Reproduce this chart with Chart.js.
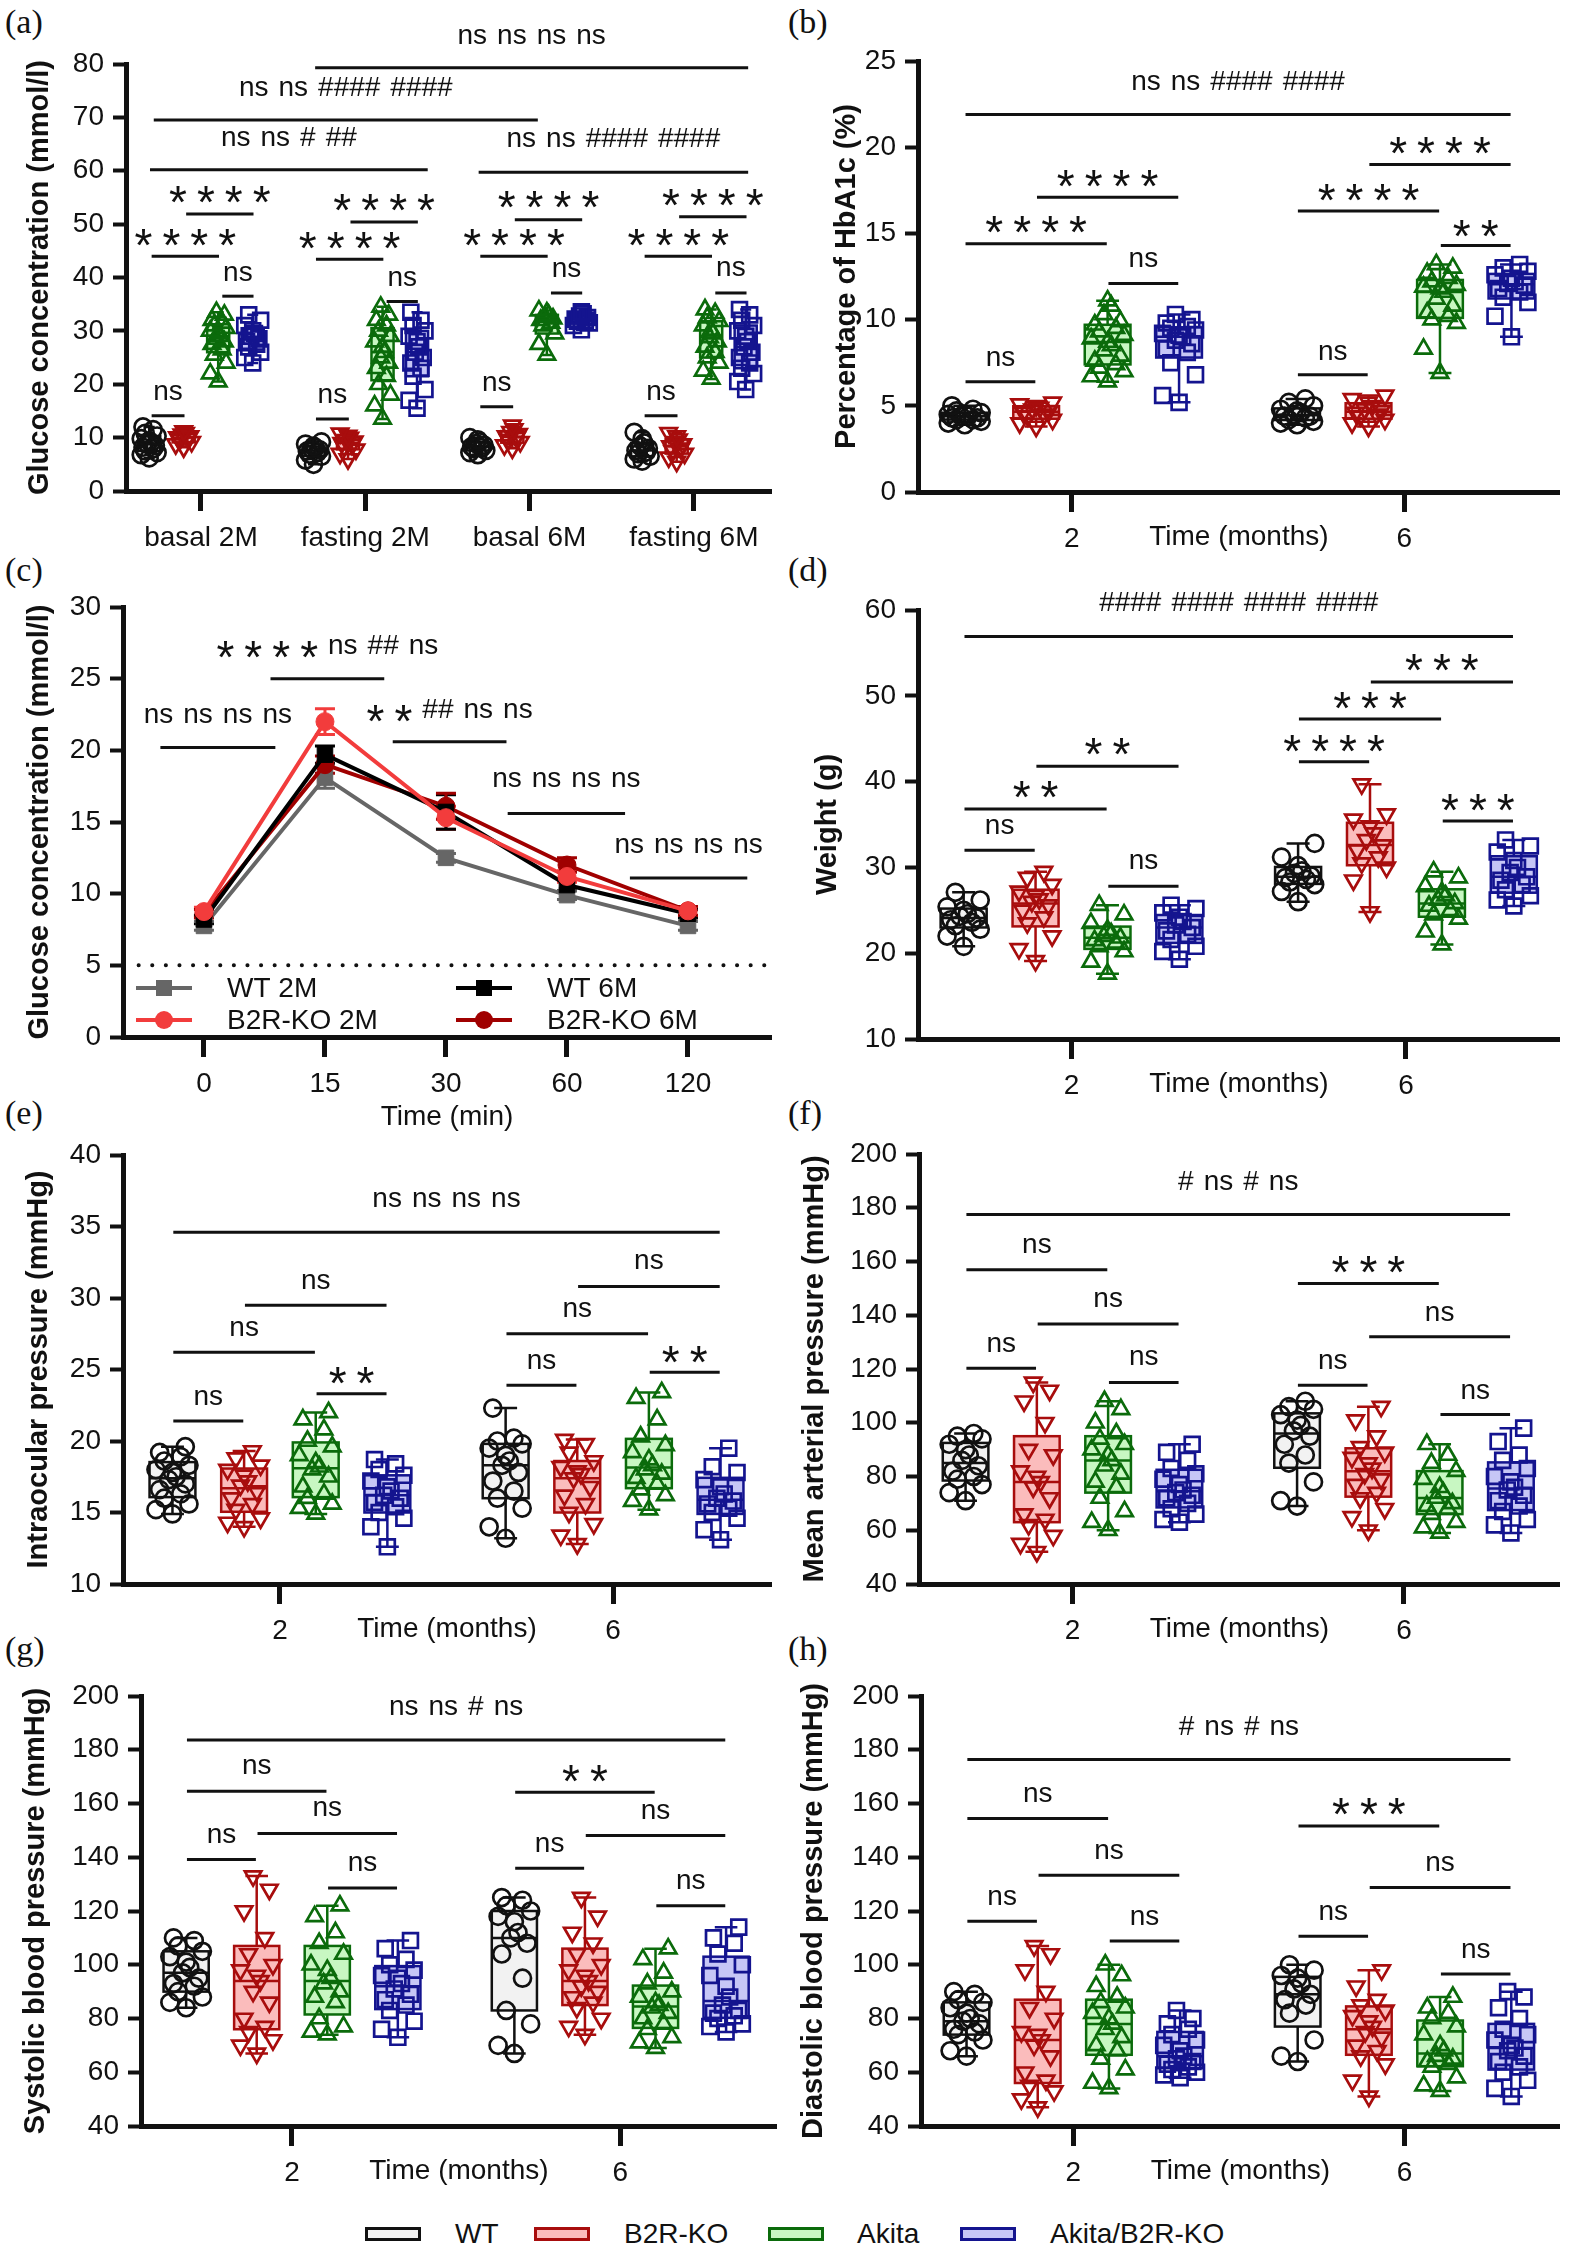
<!DOCTYPE html>
<html>
<head>
<meta charset="utf-8">
<script src="https://cdn.jsdelivr.net/npm/chart.js@4.4.0/dist/chart.umd.min.js"></script>
<style>
  body { margin: 0; background: #fff; width: 1573px; height: 2252px; position: relative; overflow: hidden; font-family: "Liberation Sans", Arial, sans-serif; color: #111; }
  .lab { position: absolute; font-family: "Liberation Serif", "Times New Roman", serif; font-size: 34px; line-height: 34px; }
  .sw { position: absolute; width: 50px; height: 8px; border: 3px solid; top: 2227px; }
  .lt { position: absolute; font-size: 28px; line-height: 30px; top: 2219px; }
</style>
</head>
<body>
<div class="lab" style="left:5px;top:5px">(a)</div>
<div class="lab" style="left:788px;top:5px">(b)</div>
<div class="lab" style="left:5px;top:553px">(c)</div>
<div class="lab" style="left:788px;top:553px">(d)</div>
<div class="lab" style="left:5px;top:1096px">(e)</div>
<div class="lab" style="left:788px;top:1096px">(f)</div>
<div class="lab" style="left:5px;top:1632px">(g)</div>
<div class="lab" style="left:788px;top:1632px">(h)</div>

<span class="sw" style="left:365px;border-color:#111;background:#f2f2f2"></span><span class="lt" style="left:455px">WT</span>
<span class="sw" style="left:534px;border-color:#a80d0d;background:#fbbcbc"></span><span class="lt" style="left:624px">B2R-KO</span>
<span class="sw" style="left:768px;border-color:#0b6b0b;background:#c8f7c2"></span><span class="lt" style="left:857px">Akita</span>
<span class="sw" style="left:960px;border-color:#14148f;background:#c6c6f6"></span><span class="lt" style="left:1050px">Akita/B2R-KO</span>

<script>
// groups shared by the box panels
const GROUPS = ['WT', 'B2R-KO', 'Akita', 'Akita/B2R-KO'];
const EDGE = ['#111111', '#a80d0d', '#0b6b0b', '#14148f'];
const FILL = ['#f2f2f2', '#fbbcbc', '#c8f7c2', '#c6c6f6'];
const STYLE = ['circle', 'triangle', 'triangle', 'rect'];
const ROT = [0, 180, 0, 0];
const RAD = [8.5, 9.5, 9.5, 10.5];
const months = ['2', '6'];

// (a) glucose, basal / fasting
const glucoseCats = ['basal 2M', 'fasting 2M', 'basal 6M', 'fasting 6M'];
const glucoseWT = [[6.2,6.8,7.2,7.5,7.9,8.2,8.5,8.8,9.0,9.4,9.8,10.3,10.8,11.5,12.0],[5.0,5.8,6.5,6.9,7.2,7.5,7.7,7.9,8.1,8.4,8.8,9.2],[6.8,7.2,7.6,7.9,8.1,8.3,8.6,8.9,9.2,9.6,10.0],[5.6,6.0,6.5,7.0,7.3,7.6,8.0,8.4,9.0,9.8,11.0]];
const glucoseB2R = [[8.2,8.8,9.2,9.6,9.9,10.1,10.3,10.6,10.9,11.2],[6.0,7.0,7.8,8.3,8.7,9.0,9.3,9.6,10.0,10.4,10.8],[8.0,8.6,9.2,9.6,10.0,10.3,10.7,11.1,11.6,12.3],[5.5,6.3,7.0,7.5,8.0,8.4,8.8,9.2,9.7,10.3,10.9]];
const glucoseAkita = [[20.5,22,24,25.5,26.5,27.5,28,28.5,29,29.5,30,30.5,31,31.5,32,33,33.5],[13.5,16,18,20,21.5,23,24,25,26,27,28,29,30,31,32,33,34.5],[25.5,27.5,29.5,31,31.5,32,32.3,32.6,33,33.4,33.8],[21,22.5,24,25,26,27,28,28.8,29.5,30.2,31,31.8,32.5,33.3,34]];
const glucoseAkitaB2R = [[24,25,26,27,27.5,28,28.5,29,29.5,30,31,32,33],[15.5,17,19,21.5,23,24,25,26,27,28,29,30,31,32,33.5],[30.2,31,31.5,31.8,32,32.2,32.5,32.8,33.2,33.6],[19,20.5,22,23,24,25,26,27,28,29,30,31,32,33,34]];

// (b) HbA1c
const hbWT = [[3.9,4.0,4.1,4.2,4.2,4.3,4.3,4.4,4.4,4.5,4.5,4.6,4.7,4.8,5.0],[3.9,4.0,4.1,4.2,4.3,4.4,4.4,4.5,4.6,4.7,4.8,5.0,5.2,5.4]];
const hbB2R = [[3.8,4.0,4.2,4.4,4.5,4.6,4.7,4.8,4.9,5.0,5.1,5.2],[3.8,4.0,4.2,4.4,4.5,4.6,4.7,4.8,5.0,5.2,5.4,5.6]];
const hbAkita = [[6.4,6.7,7.0,7.2,7.4,7.6,7.9,8.2,8.5,8.7,8.9,9.1,9.3,9.5,9.7,9.9,10.3,10.8,11.1],[6.9,8.3,9.8,10.0,10.2,10.4,10.8,11.2,11.6,11.8,11.9,12.0,12.2,12.4,12.7,13.0,13.2]];
const hbAkitaB2R = [[5.2,5.6,6.8,7.5,8.1,8.3,8.6,8.8,9.0,9.1,9.2,9.4,9.5,9.6,9.8,10.0,10.3],[9.0,10.2,11.0,11.3,11.6,11.8,12.0,12.1,12.2,12.4,12.6,12.8,13.0,13.2]];

// (c) glucose tolerance, mean and error
const gttTimes = ['0', '15', '30', '60', '120'];
const gttWT2 = [7.75, 18.1, 12.5, 9.9, 7.75];
const gttWT2Err = [0.3, 0.75, 0.3, 0.3, 0.3];
const gttKO2 = [8.75, 22.0, 15.3, 11.2, 8.8];
const gttKO2Err = [0.3, 0.9, 0.8, 0.4, 0.3];
const gttWT6 = [8.2, 19.7, 15.7, 10.6, 8.6];
const gttWT6Err = [0.3, 0.6, 1.2, 0.4, 0.3];
const gttKO6 = [8.6, 19.0, 16.1, 12.0, 8.8];
const gttKO6Err = [0.3, 0.6, 0.9, 0.5, 0.3];

// (d) weight
const wtWT = [[20.8,22.0,22.8,23.2,23.6,23.9,24.1,24.3,24.6,25.0,25.4,26.2,27.1],[26.0,27.2,28.0,28.3,28.6,28.8,29.0,29.3,29.6,30.2,31.2,32.8]];
const wtB2R = [[19.1,20.5,22.0,23.5,24.2,25.0,25.6,26.0,26.3,26.7,27.2,28.0,28.8,29.5],[24.8,28.5,30.0,30.5,31.2,32.0,32.6,33.2,34.0,34.8,35.6,36.2,39.7]];
const wtAkita = [[17.6,19.0,20.2,20.8,21.2,21.5,21.8,22.0,22.3,22.7,23.5,24.5,25.6],[21.0,22.5,24.0,24.5,25.0,25.5,25.8,26.2,26.7,27.1,27.8,28.8,29.5]];
const wtAkitaB2R = [[19.3,20.2,20.8,21.6,22.2,22.6,23.0,23.3,23.7,24.2,24.7,25.2,25.6],[25.5,26.2,26.7,27.4,28.0,28.5,28.9,29.4,30.0,30.8,31.8,32.5,33.2]];

// (e) intraocular pressure
const iopWT = [[14.9,15.2,15.6,16.0,16.3,16.6,17.0,17.3,17.5,17.8,18.0,18.3,18.6,18.9,19.2,19.6],[13.2,14.0,15.3,16.0,16.5,17.2,17.8,18.3,18.6,19.0,19.5,19.8,20.0,20.2,22.3]];
const iopB2R = [[14.0,14.3,14.6,15.2,15.6,16.0,16.5,16.9,17.2,17.6,18.0,18.3,18.8,19.3],[12.8,13.4,14.2,15.0,15.6,16.2,16.8,17.4,17.7,17.9,18.2,18.6,19.2,19.8,20.1]];
const iopAkita = [[14.9,15.3,15.6,16.0,16.3,16.8,17.5,18.0,18.2,18.5,19.0,19.6,20.0,20.8,21.5,22.0],[15.2,15.8,16.2,16.6,17.0,17.4,17.7,18.0,18.3,18.7,19.2,19.7,20.3,21.5,23.0,23.4]];
const iopAkitaB2R = [[12.6,14.0,14.6,15.0,15.4,15.7,16.0,16.2,16.5,16.8,17.2,17.6,18.0,18.4,18.7],[13.1,13.8,14.6,15.0,15.3,15.6,15.8,16.0,16.3,16.8,17.3,17.8,18.2,19.5]];

// (f) mean arterial pressure
const mapWT = [[71,74,77,79,80,82,84,86,88,90,92,94,95,96],[69,71,78,85,88,92,95,97,99,101,103,105,106,108]];
const mapB2R = [[52,55,58,62,64,66,72,76,78,80,82,88,90,100,108,112,115],[60,65,68,72,74,77,79,81,83,85,87,89,91,95,101,106]];
const mapAkita = [[60,63,67,72,76,78,81,84,86,88,90,92,94,96,100,105,108],[59,61,63,66,68,69,70,72,74,76,79,82,85,88,92]];
const mapAkitaB2R = [[63,64,66,68,70,72,73,74,75,77,79,81,83,86,89,92],[59,62,64,67,69,71,73,75,76,78,80,83,86,88,93,98]];

// (g) systolic
const sbpWT = [[84,86,88,90,92,93,95,97,99,101,103,105,107,109,110],[67,70,78,83,95,104,108,110,112,116,118,120,122,124,125]];
const sbpB2R = [[67,70,72,75,77,80,86,90,94,96,98,100,104,110,120,128,133],[74,77,80,84,86,88,90,92,94,96,98,100,104,108,112,118,125]];
const sbpAkita = [[74,75,77,80,86,88,90,93,95,98,100,104,108,112,118,122],[69,71,73,76,78,80,82,84,85,86,88,90,93,97,102,106]];
const sbpAkitaB2R = [[73,76,79,83,85,87,89,91,93,95,96,98,100,102,106,109],[75,77,78,80,81,82,83,85,88,92,96,100,104,108,110,114]];

// (h) diastolic
const dbpWT = [[66,68,72,74,75,76,78,79,80,82,84,86,87,89,90],[64,66,72,82,85,87,89,91,93,95,96,98,100]];
const dbpB2R = [[47,50,53,55,57,60,66,70,72,74,75,80,84,90,98,104,107],[51,57,63,66,68,70,73,75,77,79,81,83,85,87,92,98]];
const dbpAkita = [[54,56,61,65,68,70,73,76,78,80,82,84,86,88,92,96,100],[53,55,58,62,63,64,65,66,68,70,74,77,80,82,84,88]];
const dbpAkitaB2R = [[58,59,60,61,62,63,64,65,66,68,70,72,74,76,78,80,83],[51,54,57,60,62,64,66,68,69,70,72,74,76,80,84,88,90]];

// significance bars: [x from, x to, bar value, label value, label]
const sigA = [
  [0.695, 3.33, 79.3, 85.2, 'ns ns ns ns'], [-0.287, 2.05, 69.5, 75.5, 'ns ns #### ####'],
  [-0.31, 1.38, 60.2, 66.2, 'ns ns # ##'], [1.69, 3.33, 59.7, 65.9, 'ns ns #### ####'],
  [-0.09, 0.32, 51.9, 56.2, '* * * *'], [-0.30, 0.11, 44.0, 48.2, '* * * *'], [0.13, 0.32, 36.5, 40.9, 'ns'], [-0.30, -0.10, 14.1, 18.6, 'ns'],
  [0.91, 1.32, 50.4, 54.7, '* * * *'], [0.70, 1.11, 43.4, 47.6, '* * * *'], [1.13, 1.32, 35.5, 39.9, 'ns'], [0.70, 0.90, 13.5, 18.0, 'ns'],
  [1.91, 2.32, 50.8, 55.2, '* * * *'], [1.70, 2.11, 44.0, 48.2, '* * * *'], [2.13, 2.32, 37.1, 41.6, 'ns'], [1.70, 1.90, 15.8, 20.3, 'ns'],
  [2.91, 3.32, 51.4, 55.6, '* * * *'], [2.70, 3.11, 44.0, 48.2, '* * * *'], [3.13, 3.32, 37.1, 41.8, 'ns'], [2.70, 2.90, 14.1, 18.6, 'ns']
];
const sigB = [
  [-0.32, 1.32, 21.9, 23.8, 'ns ns #### ####'],
  [-0.105, 0.32, 17.1, 18.4, '* * * *'], [-0.32, 0.105, 14.4, 15.7, '* * * *'], [0.11, 0.32, 12.1, 13.5, 'ns'], [-0.32, -0.11, 6.4, 7.8, 'ns'],
  [0.895, 1.32, 19.0, 20.3, '* * * *'], [0.68, 1.105, 16.3, 17.6, '* * * *'], [1.11, 1.32, 14.3, 15.5, '* *'], [0.68, 0.89, 6.8, 8.1, 'ns']
];
const sigC = [
  [-0.36, 0.59, 20.2, 22.5, 'ns ns ns ns'], [0.55, 1.49, 25.0, 27.25, '* * * * ns ## ns'],
  [1.56, 2.50, 20.6, 22.8, '* * ## ns ns'], [2.51, 3.48, 15.6, 18.0, 'ns ns ns ns'], [3.52, 4.49, 11.1, 13.4, 'ns ns ns ns']
];
const sigD = [
  [-0.32, 1.32, 56.9, 60.8, '#### #### #### ####'],
  [-0.105, 0.32, 41.8, 44.5, '* *'], [-0.32, 0.105, 36.8, 39.5, '* *'], [-0.32, -0.11, 32.0, 34.8, 'ns'], [0.11, 0.32, 27.8, 30.7, 'ns'],
  [0.895, 1.32, 51.6, 54.3, '* * *'], [0.68, 1.105, 47.3, 49.9, '* * *'], [0.68, 0.89, 42.3, 44.9, '* * * *'], [1.11, 1.32, 35.4, 38.0, '* * *']
];
const sigE = [
  [-0.32, 1.32, 34.6, 36.9, 'ns ns ns ns'],
  [-0.32, 0.105, 26.2, 27.9, 'ns'], [-0.105, 0.32, 29.5, 31.2, 'ns'], [0.11, 0.32, 23.3, 24.8, '* *'], [-0.32, -0.11, 21.4, 23.1, 'ns'],
  [0.68, 1.105, 27.5, 29.2, 'ns'], [0.895, 1.32, 30.8, 32.6, 'ns'], [0.68, 0.89, 23.9, 25.6, 'ns'], [1.11, 1.32, 24.8, 26.3, '* *']
];
const sigF = [
  [-0.32, 1.32, 177.5, 189.4, '# ns # ns'],
  [-0.32, 0.105, 156.9, 166.2, 'ns'], [-0.105, 0.32, 136.7, 146.2, 'ns'], [-0.32, -0.11, 120.3, 129.2, 'ns'], [0.11, 0.32, 115.0, 124.3, 'ns'],
  [0.68, 1.105, 151.8, 160.2, '* * *'], [0.895, 1.32, 132.0, 140.9, 'ns'], [0.68, 0.89, 114.0, 123.0, 'ns'], [1.11, 1.32, 103.1, 112.0, 'ns']
];
const sigG = [
  [-0.32, 1.32, 183.6, 195.8, 'ns ns # ns'],
  [-0.32, 0.105, 164.6, 173.8, 'ns'], [-0.105, 0.32, 148.8, 158.2, 'ns'], [-0.32, -0.11, 139.2, 148.4, 'ns'], [0.11, 0.32, 128.6, 137.8, 'ns'],
  [0.68, 1.105, 164.2, 172.6, '* *'], [0.895, 1.32, 148.1, 157.2, 'ns'], [0.68, 0.89, 135.9, 145.0, 'ns'], [1.11, 1.32, 122.0, 131.2, 'ns']
];
const sigH = [
  [-0.32, 1.32, 176.4, 188.4, '# ns # ns'],
  [-0.32, 0.105, 154.4, 163.5, 'ns'], [-0.105, 0.32, 133.3, 142.5, 'ns'], [-0.32, -0.11, 116.2, 125.2, 'ns'], [0.11, 0.32, 108.8, 117.9, 'ns'],
  [0.68, 1.105, 151.6, 160.3, '* * *'], [0.895, 1.32, 128.7, 137.8, 'ns'], [0.68, 0.89, 110.6, 119.6, 'ns'], [1.11, 1.32, 96.6, 105.5, 'ns']
];

const FONT = '"Liberation Sans", Arial, sans-serif';
const INK = '#111';
const JIT = [0, -0.9, 0.9, -0.45, 0.45, -0.7, 0.7, -0.2, 0.2];

function stats(v) {
  const s = [...v].sort((a, b) => a - b), n = s.length;
  const q = p => {
    const h = Math.min(Math.max((n + 1) * p - 1, 0), n - 1);
    const lo = Math.floor(h), hi = Math.min(lo + 1, n - 1);
    return s[lo] + (s[hi] - s[lo]) * (h - lo);
  };
  return [s[0], q(0.25), q(0.5), q(0.75), s[n - 1]];
}

// labels like "* * ## ns": stars drawn larger and centred on the text line
function drawTokens(ctx, text, cx, cy) {
  const toks = text.split(' ');
  const star = toks.map(t => /^\*+$/.test(t));
  const fontOf = i => (star[i] ? '46px ' : '28px ') + FONT;
  const w = toks.map((t, i) => { ctx.font = fontOf(i); return ctx.measureText(t).width; });
  const gap = 10;
  let x = cx - (w.reduce((a, b) => a + b, 0) + gap * (toks.length - 1)) / 2;
  ctx.fillStyle = INK;
  ctx.textAlign = 'left';
  ctx.textBaseline = 'alphabetic';
  toks.forEach((t, i) => {
    ctx.font = fontOf(i);
    ctx.fillText(t, x, cy + (star[i] ? 27 : 8));
    x += w[i] + gap;
  });
}

function sigPlugin(items) {
  return {
    id: 'sig',
    afterDatasetsDraw(chart) {
      const {ctx, scales: {x, y}} = chart;
      ctx.save();
      ctx.strokeStyle = INK;
      ctx.lineWidth = 3;
      items.forEach(([x1, x2, v, tv, t]) => {
        const p1 = x.getPixelForValue(x1), p2 = x.getPixelForValue(x2), py = y.getPixelForValue(v);
        ctx.beginPath(); ctx.moveTo(p1, py); ctx.lineTo(p2, py); ctx.stroke();
        drawTokens(ctx, t, (p1 + p2) / 2, y.getPixelForValue(tv));
      });
      ctx.restore();
    }
  };
}

function boxPlugin(groups, off, boxW) {
  return {
    id: 'boxes',
    beforeDatasetsDraw(chart) {
      const {ctx, scales: {x, y}} = chart;
      const hw = (x.getPixelForValue(boxW) - x.getPixelForValue(0)) / 2;
      groups.forEach((arr, gi) => arr.forEach((vals, ci) => {
        const [mn, q1, md, q3, mx] = stats(vals).map(v => y.getPixelForValue(v));
        const cx = x.getPixelForValue(ci + off[gi]);
        ctx.save();
        ctx.strokeStyle = EDGE[gi];
        ctx.lineWidth = 2.5;
        ctx.beginPath();
        ctx.moveTo(cx, mn); ctx.lineTo(cx, mx);
        ctx.moveTo(cx - hw / 2, mn); ctx.lineTo(cx + hw / 2, mn);
        ctx.moveTo(cx - hw / 2, mx); ctx.lineTo(cx + hw / 2, mx);
        ctx.stroke();
        ctx.fillStyle = FILL[gi];
        ctx.fillRect(cx - hw, q3, 2 * hw, q1 - q3);
        ctx.strokeRect(cx - hw, q3, 2 * hw, q1 - q3);
        ctx.beginPath(); ctx.moveTo(cx - hw, md); ctx.lineTo(cx + hw, md); ctx.stroke();
        ctx.restore();
      }));
    }
  };
}

function place(id, b) {
  const c = document.createElement('canvas');
  c.id = id;
  c.width = b.W; c.height = b.H;
  c.style.cssText = `position:absolute;left:${b.L}px;top:${b.T}px;width:${b.W}px;height:${b.H}px`;
  document.body.appendChild(c);
  return c;
}

function scales(b, labels, xTitle, xh, yMin, yMax, yStep, yTitle) {
  return {
    x: {
      type: 'linear', min: b.xmin, max: b.xmax,
      afterBuildTicks: s => { s.ticks = labels.map((_, i) => ({value: i})); },
      afterFit: s => { s.height = xh; },
      ticks: {callback: v => labels[v], font: {family: FONT, size: 28}, color: INK, padding: 10, autoSkip: false, maxRotation: 0},
      grid: {drawOnChartArea: false, drawTicks: true, tickLength: 20, tickWidth: 5, tickColor: INK},
      border: {display: true, width: 5, color: INK},
      title: {display: !!xTitle, text: xTitle, font: {family: FONT, size: 28}, color: INK, padding: 0}
    },
    y: {
      type: 'linear', min: yMin, max: yMax,
      afterFit: s => { s.width = b.AL - b.L; },
      ticks: {stepSize: yStep, font: {family: FONT, size: 28}, color: INK, padding: 9},
      grid: {drawOnChartArea: false, drawTicks: true, tickLength: 13, tickWidth: 4, tickColor: INK},
      border: {display: true, width: 5, color: INK},
      title: {display: true, text: yTitle, font: {family: FONT, size: 29, weight: 'bold'}, color: INK, padding: {top: b.ty - 17.4, bottom: 0}}
    }
  };
}

function baseOptions(b, xh, sc) {
  return {
    responsive: false, animation: false, devicePixelRatio: 1, events: [],
    layout: {padding: {left: 0, top: b.AT - b.T, right: b.L + b.W - b.AR, bottom: b.H - (b.AB - b.T) - xh}},
    plugins: {legend: {display: false}, tooltip: {enabled: false}},
    scales: sc
  };
}

function boxChart(id, b, labels, groups, yMin, yMax, yStep, yTitle, xTitle, sig, gs) {
  const off = [-1.5, -0.5, 0.5, 1.5].map(k => k * gs);
  const boxW = 0.64 * gs;
  const datasets = groups.map((arr, gi) => {
    const pts = [];
    arr.forEach((vals, ci) => [...vals].sort((p, q) => p - q).forEach((v, i) =>
      pts.push({x: ci + off[gi] + JIT[i % JIT.length] * 0.4 * boxW, y: v})));
    return {
      label: GROUPS[gi], data: pts, showLine: false,
      borderColor: EDGE[gi], backgroundColor: 'rgba(0,0,0,0)',
      pointStyle: STYLE[gi], rotation: ROT[gi], pointRotation: ROT[gi],
      pointRadius: RAD[gi], borderWidth: 2.7, pointBorderWidth: 2.7
    };
  });
  new Chart(place(id, b), {
    type: 'scatter',
    data: {datasets},
    options: baseOptions(b, 62, scales(b, labels, xTitle, 62, yMin, yMax, yStep, yTitle)),
    plugins: [boxPlugin(groups, off, boxW), sigPlugin(sig)]
  });
}

const PA = {L: 0, T: 0, W: 790, H: 590, AL: 126, AT: 64, AR: 771, AB: 491, xmin: -0.456, xmax: 3.469, ty: 40};
const PB = {L: 790, T: 0, W: 783, H: 590, AL: 918, AT: 61, AR: 1562, AB: 492, xmin: -0.463, xmax: 1.468, ty: 57};
const PC = {L: 0, T: 545, W: 790, H: 600, AL: 123, AT: 607, AR: 771, AB: 1037, xmin: -0.669, xmax: 4.686, ty: 40};
const PD = {L: 790, T: 545, W: 783, H: 560, AL: 918, AT: 610, AR: 1562, AB: 1039, xmin: -0.459, xmax: 1.46, ty: 38};
const PE = {L: 0, T: 1095, W: 790, H: 560, AL: 123, AT: 1155, AR: 771, AB: 1584, xmin: -0.471, xmax: 1.474, ty: 39};
const PF = {L: 790, T: 1095, W: 783, H: 560, AL: 919, AT: 1154, AR: 1565, AB: 1584, xmin: -0.463, xmax: 1.47, ty: 25};
const PG = {L: 0, T: 1640, W: 790, H: 560, AL: 141, AT: 1696, AR: 788, AB: 2126, xmin: -0.46, xmax: 1.477, ty: 36};
const PH = {L: 790, T: 1640, W: 783, H: 560, AL: 921, AT: 1696, AR: 1567, AB: 2126, xmin: -0.46, xmax: 1.469, ty: 24};

boxChart('ca', PA, glucoseCats, [glucoseWT, glucoseB2R, glucoseAkita, glucoseAkitaB2R], 0, 80, 10, 'Glucose concentration (mmol/l)', '', sigA, 0.21);
boxChart('cb', PB, months, [hbWT, hbB2R, hbAkita, hbAkitaB2R], 0, 25, 5, 'Percentage of HbA1c (%)', 'Time (months)', sigB, 0.215);
boxChart('cd', PD, months, [wtWT, wtB2R, wtAkita, wtAkitaB2R], 10, 60, 10, 'Weight (g)', 'Time (months)', sigD, 0.215);
boxChart('ce', PE, months, [iopWT, iopB2R, iopAkita, iopAkitaB2R], 10, 40, 5, 'Intraocular pressure (mmHg)', 'Time (months)', sigE, 0.215);
boxChart('cf', PF, months, [mapWT, mapB2R, mapAkita, mapAkitaB2R], 40, 200, 20, 'Mean arterial pressure (mmHg)', 'Time (months)', sigF, 0.215);
boxChart('cg', PG, months, [sbpWT, sbpB2R, sbpAkita, sbpAkitaB2R], 40, 200, 20, 'Systolic blood pressure (mmHg)', 'Time (months)', sigG, 0.215);
boxChart('ch', PH, months, [dbpWT, dbpB2R, dbpAkita, dbpAkitaB2R], 40, 200, 20, 'Diastolic blood pressure (mmHg)', 'Time (months)', sigH, 0.215);

// (c) glucose tolerance curves
const gttSeries = [
  {label: 'B2R-KO 2M', vals: gttKO2, err: gttKO2Err, color: '#f23c3c', style: 'circle', r: 9},
  {label: 'WT 6M', vals: gttWT6, err: gttWT6Err, color: '#000000', style: 'rect', r: 11},
  {label: 'B2R-KO 6M', vals: gttKO6, err: gttKO6Err, color: '#a00000', style: 'circle', r: 9},
  {label: 'WT 2M', vals: gttWT2, err: gttWT2Err, color: '#666666', style: 'rect', r: 11}
];
const gttDatasets = gttSeries.map(s => ({
  label: s.label, data: s.vals.map((v, i) => ({x: i, y: v})),
  borderColor: s.color, backgroundColor: s.color, pointBackgroundColor: s.color,
  borderWidth: 4, pointStyle: s.style, pointRadius: s.r, pointBorderWidth: 1, tension: 0
}));
gttDatasets.push({
  label: 'baseline', data: [{x: -0.54, y: 5}, {x: 4.64, y: 5}],
  borderColor: INK, borderWidth: 4, borderDash: [0.1, 13.5], borderCapStyle: 'round', pointRadius: 0
});

const errPlugin = {
  id: 'err',
  beforeDatasetsDraw(chart) {
    const {ctx, scales: {x, y}} = chart;
    gttSeries.forEach(s => {
      ctx.save();
      ctx.strokeStyle = s.color;
      ctx.lineWidth = 3;
      s.vals.forEach((v, i) => {
        const px = x.getPixelForValue(i), hi = y.getPixelForValue(v + s.err[i]), lo = y.getPixelForValue(v - s.err[i]);
        ctx.beginPath();
        ctx.moveTo(px, hi); ctx.lineTo(px, lo);
        ctx.moveTo(px - 10, hi); ctx.lineTo(px + 10, hi);
        ctx.moveTo(px - 10, lo); ctx.lineTo(px + 10, lo);
        ctx.stroke();
      });
      ctx.restore();
    });
  }
};

const gttLegend = {
  id: 'gttLegend',
  afterDatasetsDraw(chart) {
    const {ctx, chartArea: a} = chart;
    const slots = [['WT 2M', 13, 49], ['B2R-KO 2M', 13, 17], ['WT 6M', 333, 49], ['B2R-KO 6M', 333, 17]];
    slots.forEach(([lab, dx, dy]) => {
      const s = gttSeries.find(e => e.label === lab);
      const x0 = a.left + dx, yy = a.bottom - dy;
      ctx.save();
      ctx.strokeStyle = s.color; ctx.fillStyle = s.color; ctx.lineWidth = 4;
      ctx.beginPath(); ctx.moveTo(x0, yy); ctx.lineTo(x0 + 56, yy); ctx.stroke();
      if (s.style === 'rect') ctx.fillRect(x0 + 20, yy - 8, 16, 16);
      else { ctx.beginPath(); ctx.arc(x0 + 28, yy, 9, 0, Math.PI * 2); ctx.fill(); }
      ctx.fillStyle = INK;
      ctx.font = '28px ' + FONT;
      ctx.textBaseline = 'middle';
      ctx.fillText(lab, x0 + 91, yy + 1);
      ctx.restore();
    });
  }
};

new Chart(place('cc', PC), {
  type: 'line',
  data: {datasets: gttDatasets},
  options: baseOptions(PC, 97, scales(PC, gttTimes, 'Time (min)', 97, 0, 30, 5, 'Glucose concentration (mmol/l)')),
  plugins: [errPlugin, gttLegend, sigPlugin(sigC)]
});
</script>
</body>
</html>
